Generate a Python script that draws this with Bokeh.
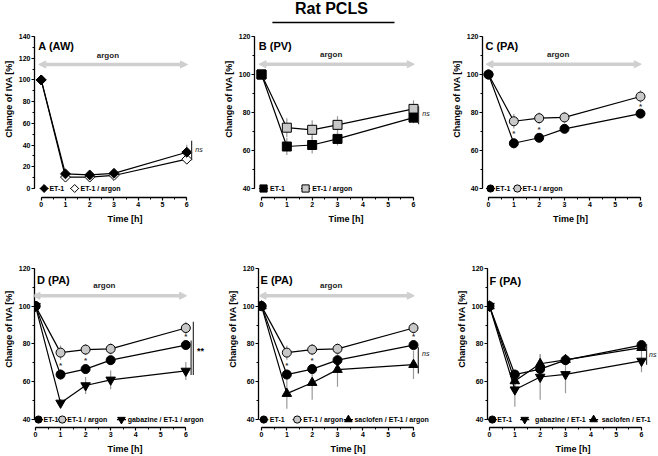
from bokeh.plotting import figure
from bokeh.layouts import column, row
from bokeh.models import Range1d, SingleIntervalTicker, Arrow, NormalHead
from bokeh.core.properties import value
from bokeh.embed import file_html
from bokeh.resources import INLINE

FONT = "Liberation Sans"

# ---------------- data ----------------
time_h = [0, 1, 2, 3, 6]
x_ticks = [0, 1, 2, 3, 4, 5, 6]

# A (AW)
aw_et1 = [100, 13.5, 12.5, 14.0, 33.4]
aw_et1_sem = [0, 2.0, 1.5, 2.0, 7.0]
aw_argon = [100, 10.5, 10.5, 12.0, 27.0]
aw_argon_sem = [0, 1.5, 1.5, 2.0, 3.0]

# B (PV)
pv_et1 = [100, 62.1, 62.9, 66.1, 77.3]
pv_et1_sem = [0, 4.5, 4.5, 3.5, 3.0]
pv_argon = [100, 72.0, 70.9, 73.5, 81.9]
pv_argon_sem = [0, 5.0, 5.0, 4.5, 4.5]

# PA (C, D, E, F)
pa_et1 = [100, 63.8, 66.7, 71.4, 79.4]
pa_et1_sem = [0, 2.7, 2.3, 2.0, 2.0]
pa_argon = [100, 75.4, 77.0, 77.4, 88.4]
pa_argon_sem = [0, 3.8, 3.0, 3.0, 3.3]
pa_gaba_argon = [100, 48.8, 58.0, 61.0, 65.7]
pa_gaba_argon_sem = [0, 2.0, 4.5, 5.0, 4.8]
pa_sacl_argon = [100, 53.7, 59.5, 66.4, 69.0]
pa_sacl_argon_sem = [0, 8.0, 9.0, 9.0, 7.5]
pa_gaba = [100, 55.8, 62.5, 63.9, 71.0]
pa_gaba_sem = [0, 9.0, 12.0, 10.0, 6.0]
pa_sacl = [100, 60.4, 69.5, 71.6, 78.0]
pa_sacl_sem = [0, 4.0, 5.0, 3.0, 2.0]

# significance marks
star_times = [1, 2, 6]
star_y_c = [68.8, 71.2, 83.4]
star_y_d = [68.5, 71.0, 83.8]
star_y_e = [68.7, 71.4, 84.0]

# ---------------- styles ----------------
BLACK = "#000000"
GREY_FILL = "#c8c8c8"
ERR = "#9a9a9a"
ARROW = "#cfcfcf"

STY = {
    "et1_dia": dict(marker="square", angle=0.785, size=7, fill_color=BLACK),
    "arg_dia": dict(marker="square", angle=0.785, size=7, fill_color="white"),
    "et1_sq": dict(marker="square", angle=0, size=9, fill_color=BLACK),
    "arg_sq": dict(marker="square", angle=0, size=9, fill_color=GREY_FILL),
    "et1_c": dict(marker="circle", angle=0, size=9, fill_color=BLACK),
    "arg_c": dict(marker="circle", angle=0, size=9, fill_color=GREY_FILL),
    "gaba": dict(marker="inverted_triangle", angle=0, size=9.5, fill_color=BLACK),
    "sacl": dict(marker="triangle", angle=0, size=9.5, fill_color=BLACK),
}

# ---------------- layout (page has no margin: reference pixels map 1:1) ----------------
PX_PER_X = 152 / 6
DATA_H = 152
ROWS = {
    "top": dict(h=230, bb=33, top=36),
    "bottom": dict(h=226, bb=28, top=38),
}


def txt(p, x, y, s, size, style="bold", align="left", color=BLACK, baseline="middle"):
    p.text(x=[x], y=[y], text=[s], text_font=value(FONT), text_font_size=size,
           text_font_style=style, text_align=align, text_baseline=baseline,
           text_color=color)


def panel(rowname, width, border_left, x0_off, y_min, y_max, y_step):
    r = ROWS[rowname]
    fw = width - border_left
    xs = -x0_off / PX_PER_X
    xe = xs + fw / PX_PER_X
    fh = r["h"] - r["bb"]
    ppy = DATA_H / (y_max - y_min)
    ys = y_min - (fh - r["top"] - DATA_H) / ppy
    ye = y_max + r["top"] / ppy
    p = figure(width=width, height=r["h"], x_range=Range1d(xs, xe), y_range=Range1d(ys, ye),
               output_backend="svg", toolbar_location=None,
               min_border_left=border_left, min_border_right=0,
               min_border_top=0, min_border_bottom=r["bb"])
    p.outline_line_color = None
    p.xgrid.visible = False
    p.ygrid.visible = False
    for ax in (p.xaxis[0], p.yaxis[0]):
        ax.axis_line_width = 1.3
        ax.axis_line_color = BLACK
        ax.major_tick_line_width = 1.2
        ax.major_tick_line_color = BLACK
        ax.minor_tick_line_width = 1
        ax.minor_tick_line_color = BLACK
        ax.major_tick_in = 0
        ax.major_tick_out = 3
        ax.minor_tick_in = 0
        ax.minor_tick_out = 2
        ax.major_label_text_font = FONT
        ax.major_label_text_font_size = "7px"
        ax.major_label_text_font_style = "bold"
        ax.major_label_text_color = BLACK
        ax.axis_label_text_font = FONT
        ax.axis_label_text_font_size = "9px"
        ax.axis_label_text_font_style = "bold"
        ax.axis_label_text_color = BLACK
    p.xaxis.ticker = SingleIntervalTicker(interval=1, num_minor_ticks=2)
    p.xaxis.bounds = (x_ticks[0], x_ticks[-1])
    p.xaxis.axis_label = "Time [h]"
    p.xaxis.major_label_standoff = 1
    p.xaxis.axis_label_standoff = 4
    p.yaxis.ticker = SingleIntervalTicker(interval=y_step, num_minor_ticks=2)
    p.yaxis.bounds = (y_min, y_max)
    p.yaxis.axis_label = "Change of IVA [%]"
    p.yaxis.major_label_standoff = 1
    p.yaxis.axis_label_standoff = 2
    return p, ppy, ye


def draw(p, series):
    for vals, sem, key in series:
        lo = [v - s for v, s in zip(vals, sem)]
        hi = [v + s for v, s in zip(vals, sem)]
        p.segment(x0=time_h, y0=lo, x1=time_h, y1=hi, line_color=ERR, line_width=1.2)
    for vals, sem, key in series:
        p.line(time_h, vals, line_color=BLACK, line_width=1.2)
    for vals, sem, key in series:
        st = STY[key]
        p.scatter(time_h, vals, marker=st["marker"], size=st["size"], angle=st["angle"],
                  fill_color=st["fill_color"], line_color=BLACK, line_width=1)


def legend(p, y, entries, gx, tx):
    for (label, key), g, t in zip(entries, gx, tx):
        st = STY[key]
        p.segment(x0=[g - 0.18], y0=[y], x1=[g + 0.18], y1=[y], line_color=BLACK, line_width=1.2)
        p.scatter([g], [y], marker=st["marker"], size=st["size"] * 0.8, angle=st["angle"],
                  fill_color=st["fill_color"], line_color=BLACK, line_width=1)
        txt(p, t, y, label, "7px")


def argon(p, y, y_text):
    head = dict(size=7, fill_color=ARROW, line_color=ARROW)
    p.add_layout(Arrow(start=NormalHead(**head), end=NormalHead(**head),
                       x_start=-0.1, y_start=y, x_end=6.03, y_end=y,
                       line_color=ARROW, line_width=3.5))
    txt(p, 2.75, y_text, "argon", "8px", align="center", color="#222222")


def sig_bar(p, x, y0, y1):
    p.segment(x0=[x], y0=[y0], x1=[x], y1=[y1], line_color="#333333", line_width=1.2)


def stars(p, ys):
    p.text(x=star_times, y=ys, text=["*"] * len(ys),
           text_font=value(FONT), text_font_size="8px", text_font_style="bold",
           text_align="center", text_baseline="middle", text_color="#333333")


# ---------------- A (AW) ----------------
pA, _, _ = panel("top", 215, 26, 7, 0, 140, 20)
draw(pA, [(aw_argon, aw_argon_sem, "arg_dia"), (aw_et1, aw_et1_sem, "et1_dia")])
argon(pA, 114.2, 122.8)
txt(pA, -0.12, 130.8, "A (AW)", "11px")
sig_bar(pA, 6.2, 26, 44)
txt(pA, 6.35, 35.5, "ns", "7px", style="italic", color="#111111")
legend(pA, 0, [("ET-1", "et1_dia"), ("ET-1 / argon", "arg_dia")], [0.12, 1.38], [0.34, 1.62])

# ---------------- B (PV) ----------------
pB, ppyB, yeB = panel("top", 222, 39, 7, 40, 120, 20)
draw(pB, [(pv_argon, pv_argon_sem, "arg_sq"), (pv_et1, pv_et1_sem, "et1_sq")])
argon(pB, 105.4, 110.5)
txt(pB, -0.11, 115.1, "B (PV)", "11px")
sig_bar(pB, 6.2, 73.8, 83.3)
txt(pB, 6.35, 79.6, "ns", "7px", style="italic", color="#111111")
legend(pB, 40, [("ET-1", "et1_sq"), ("ET-1 / argon", "arg_sq")], [0.08, 1.74], [0.34, 2.0])
# figure title (over the middle column)
title_y = yeB - 8 / ppyB
rule_y = yeB - 22 / ppyB
txt(pB, 2.76, title_y, "Rat PCLS", "16px", align="center")
pB.segment(x0=[0.43], y0=[rule_y], x1=[5.25], y1=[rule_y], line_color=BLACK, line_width=1.5)

# ---------------- C (PA) ----------------
pC, _, _ = panel("top", 221, 45, 6, 40, 120, 20)
draw(pC, [(pa_argon, pa_argon_sem, "arg_c"), (pa_et1, pa_et1_sem, "et1_c")])
argon(pC, 105.4, 110.5)
txt(pC, -0.12, 115.1, "C (PA)", "11px")
stars(pC, star_y_c)
legend(pC, 40, [("ET-1", "et1_c"), ("ET-1 / argon", "arg_c")], [0.08, 1.14], [0.28, 1.34])

# ---------------- D (PA) ----------------
pD, _, _ = panel("bottom", 215, 32, 1, 40, 120, 20)
draw(pD, [(pa_gaba_argon, pa_gaba_argon_sem, "gaba"), (pa_argon, pa_argon_sem, "arg_c"),
          (pa_et1, pa_et1_sem, "et1_c")])
argon(pD, 105.5, 110.7)
txt(pD, 0.06, 114.0, "D (PA)", "11px")
stars(pD, star_y_d)
sig_bar(pD, 6.21, 63.6, 81.8)
sig_bar(pD, 6.30, 63.6, 91.7)
txt(pD, 6.45, 76.5, "**", "9px")
legend(pD, 40, [("ET-1", "et1_c"), ("ET-1 / argon", "arg_c"),
                ("gabazine / ET-1 / argon", "gaba")], [0.12, 1.07, 3.43], [0.32, 1.27, 3.68])

# ---------------- E (PA) ----------------
pE, _, _ = panel("bottom", 222, 43, 3, 40, 120, 20)
draw(pE, [(pa_sacl_argon, pa_sacl_argon_sem, "sacl"), (pa_argon, pa_argon_sem, "arg_c"),
          (pa_et1, pa_et1_sem, "et1_c")])
argon(pE, 105.5, 110.7)
txt(pE, -0.04, 114.0, "E (PA)", "11px")
stars(pE, star_y_e)
sig_bar(pE, 6.19, 64.3, 78.3)
txt(pE, 6.34, 74.8, "ns", "7px", style="italic", color="#111111")
legend(pE, 40, [("ET-1", "et1_c"), ("ET-1 / argon", "arg_c"),
                ("saclofen / ET-1 / argon", "sacl")], [0.09, 1.41, 3.43], [0.33, 1.65, 3.67])

# ---------------- F (PA) ----------------
pF, _, _ = panel("bottom", 221, 50, 2, 40, 120, 20)
draw(pF, [(pa_gaba, pa_gaba_sem, "gaba"), (pa_sacl, pa_sacl_sem, "sacl"),
          (pa_et1, pa_et1_sem, "et1_c")])
txt(pF, 0.0, 113.5, "F (PA)", "11px")
sig_bar(pF, 6.2, 69.0, 80.0)
txt(pF, 6.3, 74.5, "ns", "7px", style="italic", color="#111111")
legend(pF, 40, [("ET-1", "et1_c"), ("gabazine / ET-1", "gaba"),
                ("saclofen / ET-1", "sacl")], [0.11, 1.39, 4.11], [0.31, 1.8, 4.43])

layout = column(row(pA, pB, pC), row(pD, pE, pF))
open("out.html", "w").write(file_html(layout, INLINE, title="Rat PCLS"))
